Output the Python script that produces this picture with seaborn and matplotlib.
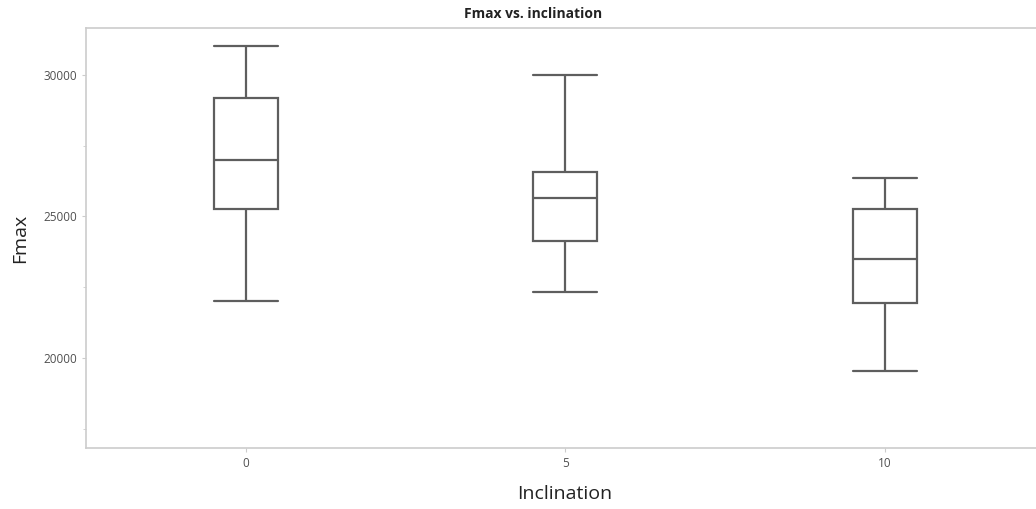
import pandas as pd
import seaborn as sns
import matplotlib.pyplot as plt
from matplotlib.ticker import MultipleLocator

# five-number summaries (min, Q1, median, Q3, max)
inclination = ["0", "5", "10"]
fmax_0 = [22000, 25280, 27000, 29190, 31030]
fmax_5 = [22330, 24120, 25650, 26570, 30000]
fmax_10 = [19540, 21940, 23480, 25250, 26360]

df = pd.DataFrame({
    "Inclination": [inclination[0]] * 5 + [inclination[1]] * 5 + [inclination[2]] * 5,
    "Fmax": fmax_0 + fmax_5 + fmax_10,
})

sns.set_style("white")
plt.rcParams["font.family"] = ["Open Sans", "DejaVu Sans"]

fig = plt.figure(figsize=(10.36, 5.09), dpi=100)
ax = fig.add_axes([0.083, 0.12, 0.925, 0.825])

line = "#5e5e5e"
sns.boxplot(
    data=df, x="Inclination", y="Fmax", order=inclination, ax=ax,
    width=0.2, whis=float("inf"), color="white", linecolor=line, linewidth=1.6,
    showfliers=False, capwidths=0.2,
)

ax.set_xlim(-0.5, 2.5)
ax.set_ylim(16820, 31660)
ax.yaxis.set_major_locator(MultipleLocator(5000))
ax.yaxis.set_minor_locator(MultipleLocator(2500))

for s in ax.spines.values():
    s.set_color("#cccccc")
    s.set_linewidth(1.2)

ax.tick_params(axis="both", which="both", direction="out", color="#cccccc",
               labelcolor="#505050", labelsize=8.5)
ax.tick_params(axis="both", which="major", length=3, left=True, bottom=True)
ax.tick_params(axis="y", which="minor", length=2, left=True)

ax.set_xlabel("Inclination", fontsize=14, color="#222222", labelpad=11)
ax.set_ylabel("Fmax", fontsize=14, color="#222222", labelpad=10)
fig.text(0.515, 0.972, "Fmax vs. inclination", ha="center", va="center",
         fontsize=10, fontweight="bold", color="#222222")

fig.savefig("out.png", dpi=100)
